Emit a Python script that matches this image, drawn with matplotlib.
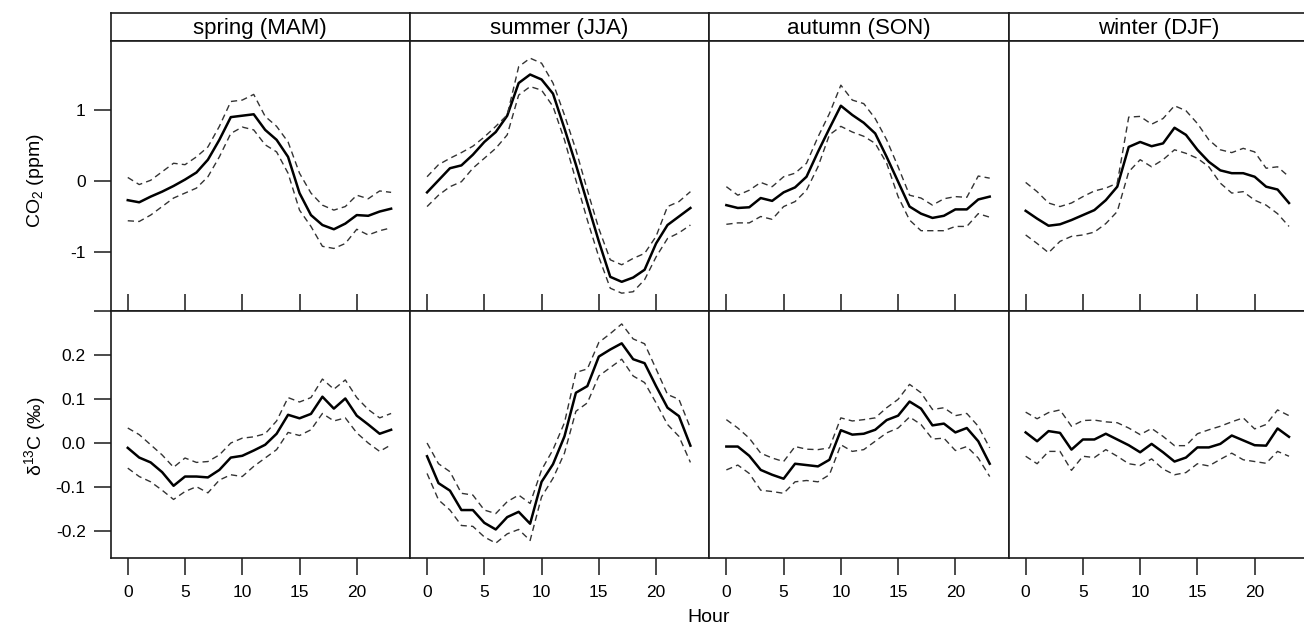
import matplotlib
matplotlib.use("Agg")
import matplotlib.pyplot as plt

plt.rcParams['font.family'] = ['Liberation Sans', 'DejaVu Sans']

hours = list(range(24))
seasons = ["spring (MAM)", "summer (JJA)", "autumn (SON)", "winter (DJF)"]

# CO2 (ppm) diurnal anomalies: mean, upper and lower bounds
co2_spring_mean = [-0.27, -0.30, -0.22, -0.15, -0.07, 0.02, 0.12, 0.30, 0.58, 0.90, 0.92, 0.94,
                   0.72, 0.58, 0.34, -0.17, -0.48, -0.62, -0.68, -0.60, -0.48, -0.49, -0.43, -0.39]
co2_spring_up = [0.05, -0.05, 0.01, 0.13, 0.25, 0.23, 0.34, 0.48, 0.77, 1.12, 1.14, 1.22,
                 0.91, 0.77, 0.55, 0.11, -0.17, -0.34, -0.41, -0.36, -0.20, -0.25, -0.14, -0.16]
co2_spring_lo = [-0.56, -0.57, -0.48, -0.36, -0.24, -0.17, -0.10, 0.06, 0.34, 0.67, 0.76, 0.72,
                 0.51, 0.41, 0.11, -0.41, -0.64, -0.92, -0.95, -0.88, -0.68, -0.76, -0.70, -0.66]

co2_summer_mean = [-0.16, 0.01, 0.18, 0.22, 0.37, 0.55, 0.69, 0.92, 1.38, 1.50, 1.43, 1.23,
                   0.74, 0.23, -0.31, -0.85, -1.35, -1.42, -1.36, -1.25, -0.88, -0.62, -0.50, -0.38]
co2_summer_up = [0.06, 0.23, 0.32, 0.40, 0.49, 0.62, 0.77, 0.93, 1.61, 1.73, 1.66, 1.38,
                 0.93, 0.44, -0.13, -0.67, -1.11, -1.18, -1.09, -1.02, -0.78, -0.36, -0.29, -0.15]
co2_summer_lo = [-0.36, -0.20, -0.08, -0.01, 0.18, 0.32, 0.46, 0.65, 1.21, 1.33, 1.28, 1.05,
                 0.58, 0.01, -0.55, -1.07, -1.51, -1.58, -1.56, -1.39, -1.07, -0.81, -0.73, -0.62]

co2_autumn_mean = [-0.34, -0.38, -0.37, -0.24, -0.28, -0.16, -0.09, 0.06, 0.41, 0.74, 1.06, 0.93,
                   0.82, 0.67, 0.34, -0.01, -0.36, -0.46, -0.52, -0.49, -0.40, -0.40, -0.26, -0.22]
co2_autumn_up = [-0.08, -0.20, -0.13, -0.02, -0.08, 0.06, 0.11, 0.25, 0.62, 0.95, 1.35, 1.14,
                 1.09, 0.88, 0.58, 0.20, -0.20, -0.24, -0.34, -0.25, -0.22, -0.23, 0.07, 0.04]
co2_autumn_lo = [-0.61, -0.59, -0.59, -0.50, -0.54, -0.36, -0.29, -0.13, 0.20, 0.65, 0.77, 0.69,
                 0.63, 0.53, 0.25, -0.22, -0.55, -0.70, -0.70, -0.70, -0.64, -0.64, -0.46, -0.51]

co2_winter_mean = [-0.42, -0.53, -0.63, -0.61, -0.55, -0.48, -0.41, -0.27, -0.08, 0.48, 0.55, 0.49,
                   0.53, 0.75, 0.65, 0.44, 0.27, 0.15, 0.11, 0.11, 0.06, -0.08, -0.12, -0.31]
co2_winter_up = [-0.02, -0.15, -0.31, -0.36, -0.31, -0.22, -0.14, -0.10, -0.03, 0.90, 0.91, 0.80,
                 0.88, 1.06, 0.99, 0.81, 0.58, 0.44, 0.40, 0.46, 0.41, 0.18, 0.20, 0.06]
co2_winter_lo = [-0.76, -0.88, -1.01, -0.85, -0.78, -0.76, -0.72, -0.60, -0.43, 0.13, 0.30, 0.20,
                 0.30, 0.44, 0.39, 0.32, 0.20, -0.03, -0.17, -0.15, -0.27, -0.34, -0.46, -0.64]

# delta13C (permil) diurnal anomalies
d13c_spring_mean = [-0.011, -0.033, -0.044, -0.066, -0.097, -0.076, -0.076, -0.078, -0.061, -0.033, -0.029, -0.017,
                    -0.004, 0.021, 0.064, 0.056, 0.066, 0.105, 0.078, 0.101, 0.062, 0.042, 0.021, 0.030]
d13c_spring_up = [0.034, 0.019, -0.004, -0.027, -0.055, -0.034, -0.044, -0.042, -0.027, 0.000, 0.011, 0.014,
                  0.021, 0.050, 0.103, 0.093, 0.103, 0.145, 0.122, 0.143, 0.103, 0.076, 0.057, 0.067]
d13c_spring_lo = [-0.057, -0.076, -0.088, -0.107, -0.128, -0.110, -0.099, -0.113, -0.084, -0.072, -0.076, -0.053,
                  -0.034, -0.015, 0.024, 0.017, 0.030, 0.067, 0.050, 0.057, 0.023, 0.000, -0.019, -0.004]

d13c_summer_mean = [-0.030, -0.091, -0.108, -0.152, -0.152, -0.181, -0.196, -0.168, -0.156, -0.183, -0.088, -0.048,
                    0.015, 0.114, 0.129, 0.196, 0.212, 0.226, 0.190, 0.181, 0.129, 0.080, 0.061, -0.006]
d13c_summer_up = [0.000, -0.047, -0.065, -0.114, -0.118, -0.152, -0.160, -0.133, -0.118, -0.137, -0.061, -0.015,
                  0.046, 0.160, 0.168, 0.228, 0.248, 0.270, 0.236, 0.225, 0.168, 0.110, 0.099, 0.034]
d13c_summer_lo = [-0.069, -0.129, -0.152, -0.187, -0.189, -0.213, -0.227, -0.206, -0.196, -0.221, -0.122, -0.080,
                  -0.023, 0.072, 0.091, 0.152, 0.171, 0.190, 0.152, 0.137, 0.091, 0.042, 0.015, -0.044]

d13c_autumn_mean = [-0.008, -0.008, -0.029, -0.061, -0.072, -0.081, -0.047, -0.050, -0.053, -0.038, 0.029, 0.019,
                    0.021, 0.030, 0.052, 0.062, 0.094, 0.078, 0.040, 0.044, 0.024, 0.034, 0.004, -0.047]
d13c_autumn_up = [0.053, 0.034, 0.011, -0.023, -0.034, -0.042, -0.008, -0.014, -0.015, -0.011, 0.057, 0.050,
                  0.053, 0.057, 0.080, 0.099, 0.133, 0.114, 0.076, 0.080, 0.062, 0.067, 0.038, -0.011]
d13c_autumn_lo = [-0.061, -0.050, -0.069, -0.107, -0.110, -0.114, -0.088, -0.085, -0.088, -0.072, -0.004, -0.019,
                  -0.015, 0.004, 0.023, 0.034, 0.059, 0.042, 0.009, 0.011, -0.017, -0.008, -0.034, -0.076]

d13c_winter_mean = [0.024, 0.004, 0.027, 0.023, -0.015, 0.008, 0.008, 0.021, 0.008, -0.005, -0.021, -0.002,
                    -0.021, -0.042, -0.033, -0.010, -0.010, -0.002, 0.017, 0.006, -0.005, -0.006, 0.033, 0.014]
d13c_winter_up = [0.070, 0.055, 0.069, 0.075, 0.038, 0.051, 0.052, 0.048, 0.046, 0.034, 0.019, 0.033,
                  0.015, -0.006, -0.006, 0.021, 0.030, 0.038, 0.048, 0.057, 0.032, 0.042, 0.075, 0.062]
d13c_winter_lo = [-0.030, -0.047, -0.019, -0.019, -0.062, -0.030, -0.033, -0.015, -0.030, -0.047, -0.051, -0.036,
                  -0.059, -0.072, -0.067, -0.047, -0.052, -0.037, -0.023, -0.038, -0.042, -0.046, -0.019, -0.030]

co2_series = [
    (co2_spring_mean, co2_spring_up, co2_spring_lo),
    (co2_summer_mean, co2_summer_up, co2_summer_lo),
    (co2_autumn_mean, co2_autumn_up, co2_autumn_lo),
    (co2_winter_mean, co2_winter_up, co2_winter_lo),
]
d13c_series = [
    (d13c_spring_mean, d13c_spring_up, d13c_spring_lo),
    (d13c_summer_mean, d13c_summer_up, d13c_summer_lo),
    (d13c_autumn_mean, d13c_autumn_up, d13c_autumn_lo),
    (d13c_winter_mean, d13c_winter_up, d13c_winter_lo),
]

co2_ticks = [-1, 0, 1]
d13c_ticks = [-0.2, -0.1, 0.0, 0.1, 0.2, 0.3]
d13c_ticklabels = ["-0.2", "-0.1", "0.0", "0.1", "0.2", ""]
hour_ticks = [0, 5, 10, 15, 20]

W, H = 1304, 634
fig = plt.figure(figsize=(W / 100, H / 100), dpi=100)

left0 = 110.7
pw = 299.3
strip_top, strip_bot = 13.3, 41.3
mid = 310.7
bottom = 558.3
xlim = (-1.49, 24.65)
edge = "#1a1a1a"
band_color = "#333333"
dash = (0, (4.5, 3))

def fx(px):
    return px / W

def fy(py):
    return 1 - py / H

for i in range(4):
    x0 = left0 + i * pw
    # strip
    sax = fig.add_axes([fx(x0), fy(strip_bot), fx(pw), (strip_bot - strip_top) / H])
    sax.set_xticks([]); sax.set_yticks([])
    for s in sax.spines.values():
        s.set_linewidth(1.2); s.set_color(edge)
    sax.text(0.5, 0.47, seasons[i], ha="center", va="center", fontsize=16, transform=sax.transAxes)

    # top panel (CO2)
    ax1 = fig.add_axes([fx(x0), fy(mid), fx(pw), (mid - strip_bot) / H])
    m, u, l = co2_series[i]
    ax1.plot(hours, m, color="black", lw=1.8)
    ax1.plot(hours, u, color=band_color, lw=1.0, linestyle=dash)
    ax1.plot(hours, l, color=band_color, lw=1.0, linestyle=dash)
    ax1.set_xlim(*xlim)
    ax1.set_ylim(-1.827, 1.968)
    ax1.set_xticks(hour_ticks)
    ax1.tick_params(axis="x", direction="in", length=12, width=1.1, labelbottom=False, color=edge)
    if i == 0:
        ax1.set_yticks(co2_ticks)
        ax1.set_yticklabels([str(t) for t in co2_ticks])
        ax1.tick_params(axis="y", direction="out", length=12, width=1.1, pad=6, labelsize=12.5, color=edge)
    else:
        ax1.set_yticks([])
    for s in ax1.spines.values():
        s.set_linewidth(1.2); s.set_color(edge)

    # bottom panel (d13C)
    ax2 = fig.add_axes([fx(x0), fy(bottom), fx(pw), (bottom - mid) / H])
    m, u, l = d13c_series[i]
    ax2.plot(hours, m, color="black", lw=1.8)
    ax2.plot(hours, u, color=band_color, lw=1.0, linestyle=dash)
    ax2.plot(hours, l, color=band_color, lw=1.0, linestyle=dash)
    ax2.set_xlim(*xlim)
    ax2.set_ylim(-0.2614, 0.3)
    ax2.set_xticks(hour_ticks)
    ax2.set_xticklabels([str(t) for t in hour_ticks])
    ax2.tick_params(axis="x", direction="out", length=12, width=1.1, pad=7, labelsize=12.5, color=edge)
    if i == 0:
        ax2.set_yticks(d13c_ticks)
        ax2.set_yticklabels(d13c_ticklabels)
        ax2.tick_params(axis="y", direction="out", length=12, width=1.1, pad=6, labelsize=12.5, color=edge)
    else:
        ax2.set_yticks([])
    for s in ax2.spines.values():
        s.set_linewidth(1.2); s.set_color(edge)

fig.text(fx(709), fy(617), "Hour", ha="center", va="center", fontsize=14)
fig.text(fx(35), fy(181), r"$\mathregular{CO_2}$ (ppm)", ha="center", va="center", rotation=90, fontsize=14)
fig.text(fx(35), fy(436), r"$\mathregular{δ^{13}}$C (‰)", ha="center", va="center", rotation=90, fontsize=14)

fig.savefig("out.png", dpi=100)
